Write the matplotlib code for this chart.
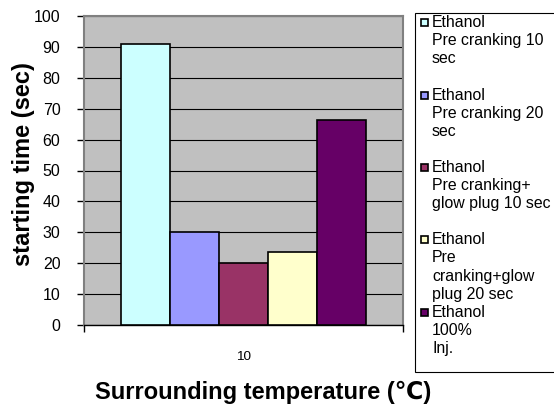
import matplotlib
matplotlib.use('Agg')
import matplotlib.pyplot as plt
import numpy as np
from matplotlib.patches import Rectangle

# series shown in the legend, as wrapped in the original chart
series_names = [
    ['Ethanol', 'Pre cranking 10', 'sec'],
    ['Ethanol', 'Pre cranking 20', 'sec'],
    ['Ethanol', 'Pre cranking+', 'glow plug 10 sec'],
    ['Ethanol', 'Pre', 'cranking+glow', 'plug 20 sec'],
    ['Ethanol', '100%', 'Inj.'],
]
starting_time = [91, 30, 20, 23.5, 66.5]
bar_colors = ['#CCFFFF', '#9999FF', '#993366', '#FFFFCC', '#660066']
category_labels = ['10']
y_ticks = list(range(0, 101, 10))

W, H = 554, 408
plt.rcParams['font.family'] = ['Liberation Sans', 'DejaVu Sans']

fig = plt.figure(figsize=(W / 100, H / 100), dpi=100)
ax = fig.add_axes([84 / W, 1 - 325 / H, 319 / W, 309 / H])
ax.set_facecolor('#C0C0C0')

n = len(starting_time)
offsets = np.arange(n) - (n - 1) / 2
for off, val, col in zip(offsets, starting_time, bar_colors):
    ax.bar(off, val, width=1.0, color=col, edgecolor='black', linewidth=1.2, zorder=3)

ax.set_xlim(-3.25, 3.25)
ax.set_ylim(0, 100)
ax.set_yticks(y_ticks)
ax.yaxis.grid(True, color='black', linewidth=0.8)
ax.set_axisbelow(True)
ax.tick_params(axis='y', length=5, width=1, direction='out', pad=12, labelsize=11.5)

ax.set_xticks([0])
ax.set_xticklabels(category_labels)
ax.set_xticks([-3.25, 3.25], minor=True)
ax.tick_params(axis='x', which='major', length=0, pad=19, labelsize=9.7)
ax.tick_params(axis='x', which='minor', length=5, width=1, direction='out')

for side in ['top', 'right', 'left']:
    ax.spines[side].set_color('#808080')
    ax.spines[side].set_linewidth(1.5)
ax.spines['bottom'].set_color('black')
ax.spines['bottom'].set_linewidth(1.0)

ax.set_ylabel('starting time (sec)', fontsize=17, fontweight='bold')
ax.yaxis.set_label_coords(-0.155, 0.521)
ax.set_xlabel('Surrounding temperature (\u2103)', fontsize=17, fontweight='bold')
ax.xaxis.set_label_coords(0.563, -0.181)

# legend box, drawn by hand so the markers sit on the first text line
fig.patches.append(Rectangle((415 / W, 1 - 372 / H), (W + 10 - 415) / W, (372 - 13) / H,
                             transform=fig.transFigure, facecolor='white',
                             edgecolor='black', linewidth=0.8))
line_h = 18.1
for i, (lines, col) in enumerate(zip(series_names, bar_colors)):
    y0 = 22.7 + 4 * i * line_h
    fig.patches.append(Rectangle((420.5 / W, 1 - (y0 + 3.5) / H), 7 / W, 7 / H,
                                 transform=fig.transFigure, facecolor=col,
                                 edgecolor='black', linewidth=1.2))
    for j, txt in enumerate(lines):
        fig.text(432 / W, 1 - (y0 + j * line_h) / H, txt, fontsize=11.4,
                 ha='left', va='center')

fig.savefig('out.png', dpi=100)
